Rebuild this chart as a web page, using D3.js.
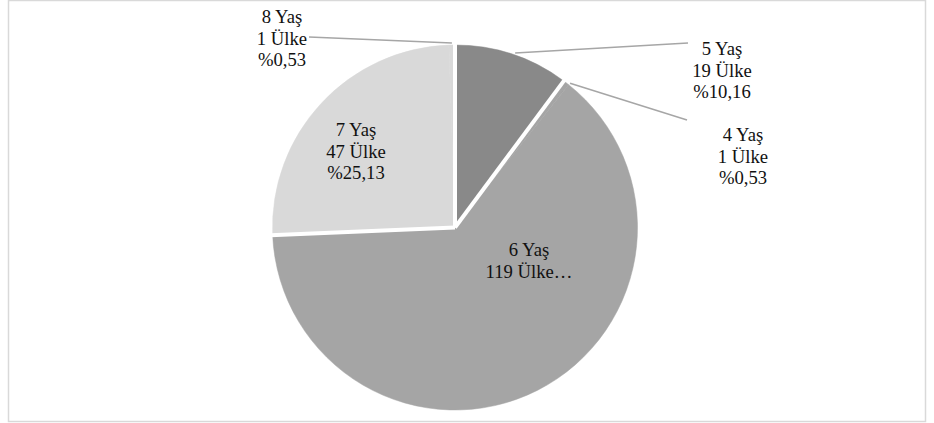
<!DOCTYPE html>
<html>
<head>
<meta charset="utf-8">
<script src="https://cdn.jsdelivr.net/npm/d3@7"></script>
<style>
  html, body { margin: 0; padding: 0; background: #fff; }
  svg { display: block; }
</style>
</head>
<body>
<svg id="chart" width="934" height="423"></svg>
<script>
// Age at school entry: number of countries and share
const ages = ["5 Yaş", "4 Yaş", "6 Yaş", "7 Yaş", "8 Yaş"];
const counts = [19, 1, 119, 47, 1];
const percents = ["%10,16", "%0,53", "%63,64", "%25,13", "%0,53"];
const fills = ["#898989", "#a5a5a5", "#a5a5a5", "#d9d9d9", "#d9d9d9"];

// label placement: centre x, first baseline y, and leader end next to the label
const labelPos = [
  { x: 722, y: 55, lead: [688, 43] },
  { x: 743, y: 141, lead: [687, 120] },
  { x: 529, y: 256, lead: null },
  { x: 356, y: 136, lead: null },
  { x: 282, y: 23, lead: [309, 37] }
];
const lineH = 21.5;
const FONT = "'Liberation Serif', 'Times New Roman', Times, serif";

const svg = d3.select("#chart");

// outer frame
svg.append("rect")
  .attr("x", 8.5).attr("y", 0.5)
  .attr("width", 917).attr("height", 421)
  .attr("fill", "none").attr("stroke", "#d9d9d9").attr("stroke-width", 1.5);

const cx = 455, cy = 227.5, r = 182.5;
const g = svg.append("g").attr("transform", `translate(${cx},${cy})`);

const data = ages.map((a, i) => ({ age: a, count: counts[i], pct: percents[i], fill: fills[i], pos: labelPos[i] }));

const pie = d3.pie().sort(null).value(d => d.count);
const arc = d3.arc().innerRadius(0).outerRadius(r);
const arcs = pie(data);

g.selectAll("path.slice")
  .data(arcs)
  .join("path")
  .attr("class", "slice")
  .attr("d", arc)
  .attr("fill", d => d.data.fill)
  .attr("stroke", d => d.data.fill)
  .attr("stroke-width", 0.5);

// white separators where the slice colour changes
arcs.forEach((d, i) => {
  const prev = arcs[(i + arcs.length - 1) % arcs.length];
  if (prev.data.fill === d.data.fill) return;
  const a = d.startAngle;
  g.append("line")
    .attr("x1", 0).attr("y1", 0)
    .attr("x2", (r + 2) * Math.sin(a)).attr("y2", -(r + 2) * Math.cos(a))
    .attr("stroke", "#fff").attr("stroke-width", 4);
});

// leader lines from the slice rim to the outside labels
arcs.forEach(d => {
  const p = d.data.pos;
  if (!p.lead) return;
  let ang = (d.startAngle + d.endAngle) / 2;
  if (d.data.age === "5 Yaş") ang = d.startAngle + (d.endAngle - d.startAngle) * 0.52;
  if (d.data.age === "4 Yaş") ang = d.startAngle + 0.035;
  const px = (r + 2) * Math.sin(ang), py = -(r + 2) * Math.cos(ang);
  svg.append("line")
    .attr("x1", cx + px).attr("y1", cy + py)
    .attr("x2", p.lead[0]).attr("y2", p.lead[1])
    .attr("stroke", "#a6a6a6").attr("stroke-width", 1.5);
});

// data labels
arcs.forEach(d => {
  const p = d.data.pos;
  const lines = d.data.age === "6 Yaş"
    ? [d.data.age, d.data.count + " Ülke…"]
    : [d.data.age, d.data.count + " Ülke", d.data.pct];
  const t = svg.append("text")
    .attr("text-anchor", "middle")
    .attr("font-family", FONT)
    .attr("font-size", 18.67)
    .attr("fill", "#111");
  lines.forEach((s, i) => {
    t.append("tspan").attr("x", p.x).attr("y", p.y + i * lineH).text(s);
  });
});
</script>
</body>
</html>
